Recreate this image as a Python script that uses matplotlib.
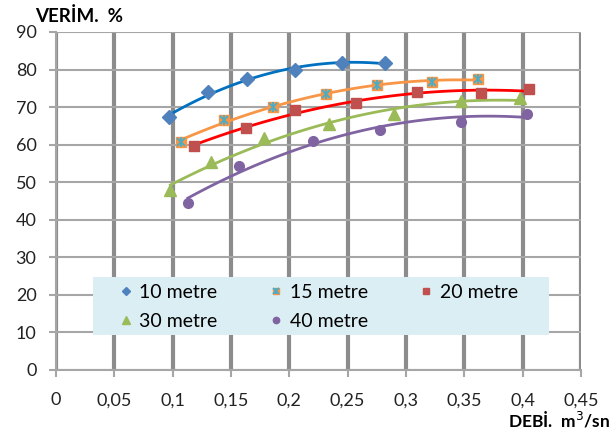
import matplotlib
import numpy as np

matplotlib.use("Agg")
import matplotlib.pyplot as plt
from matplotlib.patches import Rectangle
from matplotlib.ticker import FuncFormatter, MultipleLocator

plt.rcParams["font.family"] = ["Lato", "DejaVu Sans"]

# debi (m3/sn) ve verim (%) değerleri, her basma yüksekliği için
q_10 = [0.097, 0.130, 0.164, 0.205, 0.245, 0.282]
v_10 = [67.3, 74.1, 77.4, 79.9, 81.7, 81.8]

q_15 = [0.107, 0.144, 0.186, 0.231, 0.275, 0.322, 0.362]
v_15 = [60.8, 66.6, 69.9, 73.5, 76.0, 76.6, 77.5]

q_20 = [0.118, 0.163, 0.205, 0.257, 0.309, 0.364, 0.405]
v_20 = [59.7, 64.5, 69.1, 71.0, 74.1, 73.7, 74.7]

q_30 = [0.098, 0.133, 0.178, 0.234, 0.290, 0.347, 0.398]
v_30 = [47.9, 55.5, 61.9, 65.4, 68.2, 71.5, 72.3]

q_40 = [0.113, 0.157, 0.220, 0.278, 0.347, 0.404]
v_40 = [44.4, 54.3, 61.0, 63.9, 66.1, 68.2]

labels = ["10 metre", "15 metre", "20 metre", "30 metre", "40 metre"]

fig = plt.figure(figsize=(6.16, 4.34), dpi=100)
ax = fig.add_axes([56 / 616, 1 - 370 / 434, 525 / 616, 338 / 434])

series = [
    (q_10, v_10, "D", "#4F81BD", "#0070C0", 7),
    (q_15, v_15, "s", "#F79646", "#F79646", 7.5),
    (q_20, v_20, "s", "#C0504D", "#FF0000", 7.5),
    (q_30, v_30, "^", "#9BBB59", "#9BBB59", 8.5),
    (q_40, v_40, "o", "#8064A2", "#8064A2", 7),
]

handles = []
for (q, v, mk, mcol, lcol, ms), lab in zip(series, labels):
    q = np.array(q)
    v = np.array(v)
    # Excel tipi 2. derece polinom eğilim çizgisi
    c = np.polyfit(q, v, 2)
    xs = np.linspace(q.min(), q.max(), 100)
    ax.plot(xs, np.polyval(c, xs), color=lcol, lw=2, zorder=3)
    h, = ax.plot(q, v, ls="none", marker=mk, ms=ms, color=mcol, zorder=4)
    if lab == "15 metre":
        h2, = ax.plot(q, v, ls="none", marker="x", ms=6, mew=1.3, color="#4BACC6", zorder=5)
        h3, = ax.plot(q, v, ls="none", marker="|", ms=6.5, mew=1.3, color="#4BACC6", zorder=5)
        handles.append((h, h2, h3))
    else:
        handles.append(h)

ax.set_xlim(0, 0.45)
ax.set_ylim(0, 90)
ax.xaxis.set_major_locator(MultipleLocator(0.05))
ax.yaxis.set_major_locator(MultipleLocator(10))


def comma(x, pos):
    s = f"{x:.2f}".rstrip("0").rstrip(".")
    return s.replace(".", ",")


ax.xaxis.set_major_formatter(FuncFormatter(comma))
ax.yaxis.set_major_formatter(FuncFormatter(lambda y, pos: f"{y:.0f}"))

ax.grid(axis="x", color="#8C8C8C", lw=3)
ax.grid(axis="y", color="#A6A6A6", lw=1.5)
ax.set_axisbelow(True)
for side in ["top", "right"]:
    ax.spines[side].set_visible(False)
for side in ["left", "bottom"]:
    ax.spines[side].set_color("#A6A6A6")
    ax.spines[side].set_linewidth(1.5)
ax.tick_params(axis="both", colors="#A6A6A6", labelcolor="#222222", labelsize=13,
               length=5, width=1.5)
ax.tick_params(axis="y", pad=9)
ax.tick_params(axis="x", pad=11)

fig.text(35 / 616, 1 - 22 / 434, "VERİM.  %", fontsize=13.5, fontweight="bold", ha="left", va="baseline")
fig.text(610 / 616, 1 - 428 / 434, "DEBİ.  m$^3$/sn", fontsize=12.5, fontweight="bold", ha="right", va="baseline")

# lejant kutusu
ax.add_patch(Rectangle((0.0705, 0.1036), 0.8686, 0.1716, transform=ax.transAxes,
                       facecolor="#DBEEF4", edgecolor="none", zorder=1))

# satır sıralı yerleşim için sıra: 10, 30, 15, 40, 20
order = [0, 3, 1, 4, 2]
leg = ax.legend([handles[i] for i in order], [labels[i] for i in order], ncol=3,
                loc="upper left", bbox_to_anchor=((116 - 56) / 525, (370 - 284) / 338),
                borderaxespad=0, borderpad=0, fontsize=14, frameon=False,
                handlelength=1, handletextpad=0.2, labelspacing=0.6,
                columnspacing=2.5, markerscale=0.65)
leg.set_zorder(6)

fig.savefig("out.png", dpi=100)
